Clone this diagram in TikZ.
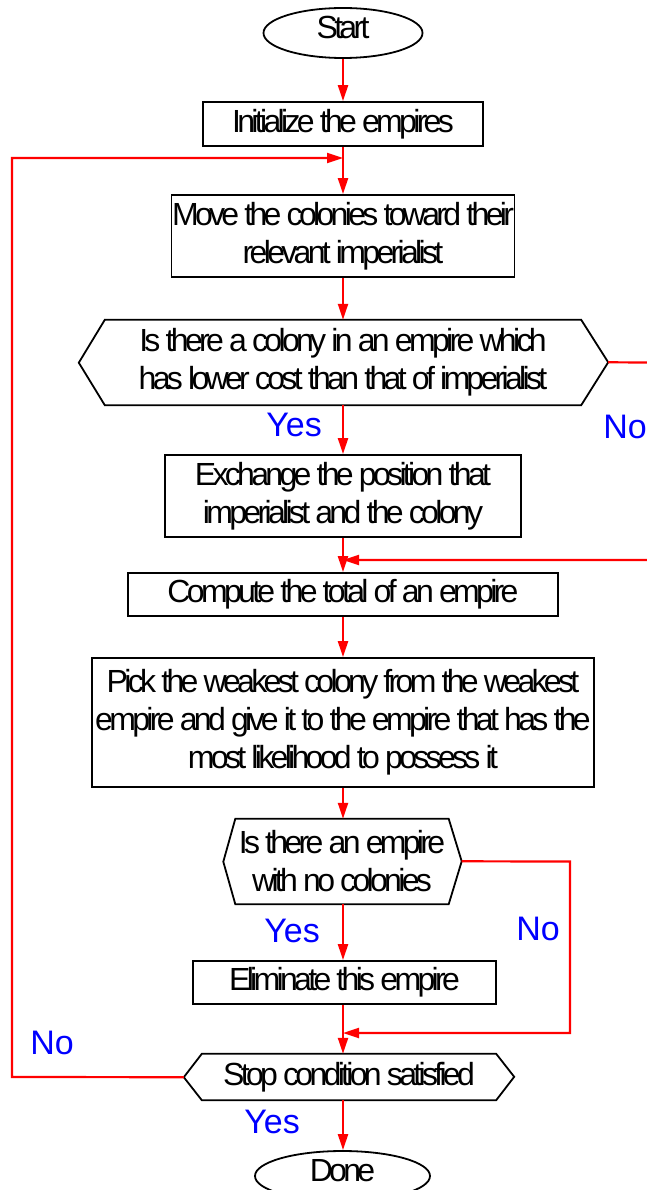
\documentclass[tikz,border=0pt]{standalone}
\usepackage{fontspec}
\setmainfont{Liberation Sans}[LetterSpace=-11.5]
\newfontfamily\lblfont{Liberation Sans}
\usetikzlibrary{arrows.meta,shapes.geometric}
\tikzset{
  stepbox/.style={draw=black, line width=1.8pt, rectangle, inner sep=0pt, align=center,
    font=\fontsize{32}{38}\selectfont},
  term/.style={draw=black, line width=1.8pt, ellipse, inner sep=0pt, text depth=12pt,
    font=\fontsize{32}{38}\selectfont},
  hexnode/.style={rectangle, inner sep=0pt, align=center, font=\fontsize{32}{38}\selectfont},
  hexline/.style={draw=black, line width=1.8pt, line join=miter},
  flow/.style={draw=red, line width=2.2pt, -{Triangle[length=16pt,width=10pt]}},
  lbl/.style={text=blue, inner sep=0pt, font=\lblfont\fontsize{34}{40}\selectfont},
}
\begin{document}
\begin{tikzpicture}[x=1pt,y=-1pt]
\useasboundingbox (0,0) rectangle (646,1190);
% nodes
\node[term, minimum width=159pt, minimum height=50pt] (start) at (343,33) {Start};
\node[stepbox, minimum width=280pt, minimum height=44pt] (init) at (343,124) {Initialize the empires};
\node[stepbox, minimum width=343pt, minimum height=82pt] (move) at (343,236) {Move the colonies toward their\\relevant imperialist};
\node[hexnode, minimum width=476pt, minimum height=85pt] (h1) at (343,362.5) {Is there a colony in an empire which\\has lower cost than that of imperialist};
\draw[hexline] (h1.north west) -- (h1.north east) -- ++(27,42.5) coordinate (h1e) -- (h1.south east) -- (h1.south west) -- ++(-26,-42.5) coordinate (h1w) -- cycle;
\node[stepbox, minimum width=356pt, minimum height=82pt] (exch) at (343,496) {Exchange the position that\\imperialist and the colony};
\node[stepbox, minimum width=430pt, minimum height=43pt] (comp) at (343,594.5) {Compute the total of an empire};
\node[stepbox, minimum width=502pt, minimum height=129pt] (pick) at (343,722.5) {Pick the weakest colony from the weakest\\empire and give it to the empire that has the\\most likelihood to possess it};
\node[hexnode, minimum width=213pt, minimum height=85pt] (h2) at (342,861.5) {Is there an empire\\with no colonies};
\draw[hexline] (h2.north west) -- (h2.north east) -- ++(13,42.5) coordinate (h2e) -- (h2.south east) -- (h2.south west) -- ++(-12,-42.5) coordinate (h2w) -- cycle;
\node[stepbox, minimum width=303pt, minimum height=43pt] (elim) at (344.5,982.5) {Eliminate this empire};
\node[hexnode, minimum width=294pt, minimum height=46pt] (h3) at (349,1077) {Stop condition satisfied};
\draw[hexline] (h3.north west) -- (h3.north east) -- ++(18,23) coordinate (h3e) -- (h3.south east) -- (h3.south west) -- ++(-18,-23) coordinate (h3w) -- cycle;
\node[term, minimum width=175pt, minimum height=50pt] (done) at (342.5,1176) {Done};
% labels
\node[lbl] (yes1) at (294,425) {Yes};
\node[lbl] (no1) at (625,427) {No};
\node[lbl] (yes2) at (292,931) {Yes};
\node[lbl] (no2) at (538,929) {No};
\node[lbl] (no3) at (52,1043) {No};
\node[lbl] (yes3) at (272,1122) {Yes};
% join points
\coordinate (loopin) at (343,158);
\coordinate (join1) at (343,560);
\coordinate (join2) at (343,1033);
% connectors
\draw[flow] (start.south -| loopin) -- (init.north -| loopin);
\draw[flow] (init.south -| loopin) -- (move.north -| loopin);
\draw[flow] (move.south -| loopin) -- (h1.north -| loopin);
\draw[flow] (h1.south -| loopin) -- (exch.north -| loopin);
\draw[flow] (exch.south -| loopin) -- (comp.north -| loopin);
\draw[flow] (comp.south -| loopin) -- (pick.north -| loopin);
\draw[flow] (pick.south -| loopin) -- (h2.north -| loopin);
\draw[flow] (h2.south -| loopin) -- (elim.north -| loopin);
\draw[flow] (elim.south -| loopin) -- (h3.north -| loopin);
\draw[flow] (h3.south -| loopin) -- (done.north -| loopin);
\draw[flow] (h1e) -- (649,362.5) -- (649,560) -- (join1);
\draw[flow] (h2e) -- (570,861.5) -- (570,1033) -- (join2);
\draw[flow] (h3w) -- (12,1077) -- (12,158) -- (loopin);
\end{tikzpicture}
\end{document}
